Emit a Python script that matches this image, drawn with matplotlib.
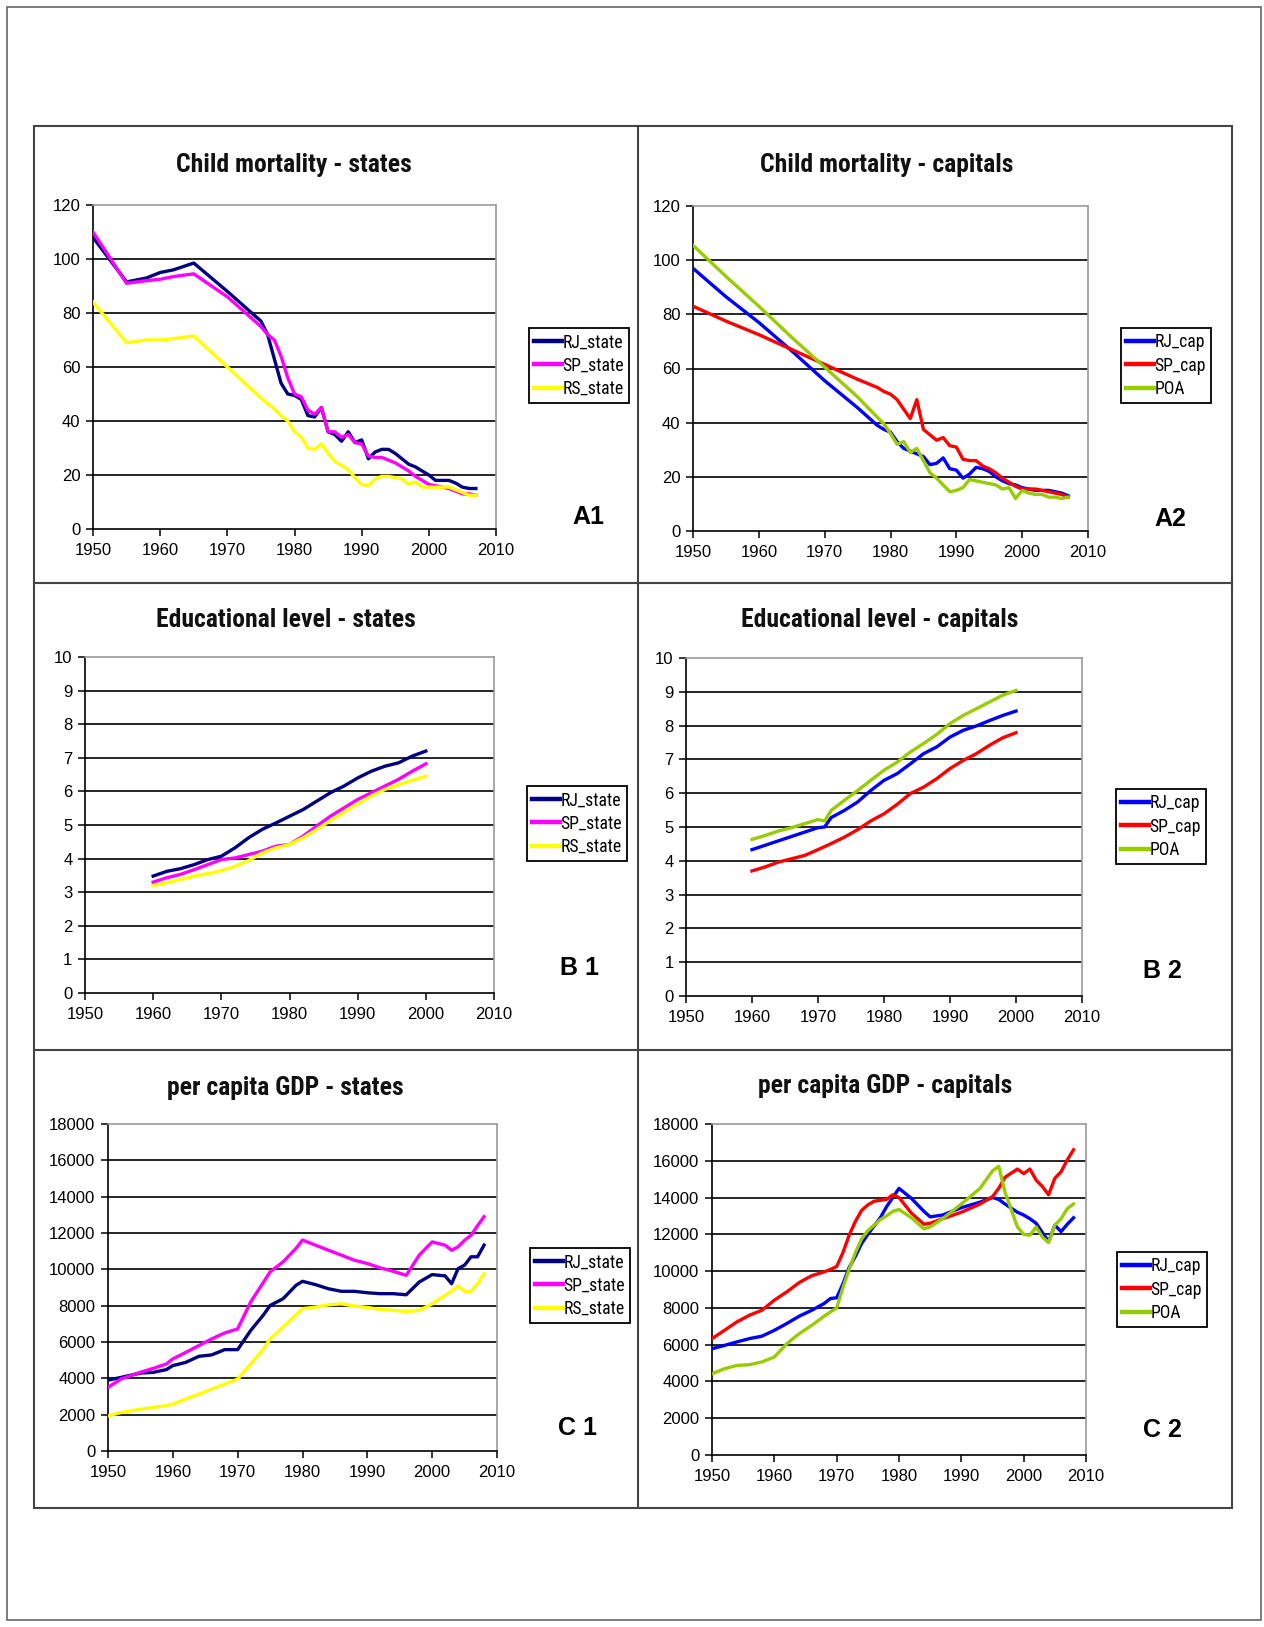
import numpy as np
import matplotlib
matplotlib.use('Agg')
import matplotlib.pyplot as plt
from matplotlib import font_manager
from matplotlib.lines import Line2D
from matplotlib.patches import Rectangle

# ---- child mortality, states ----
yrs_mort_st = [1950, 1955, 1958, 1960, 1962, 1965, 1970, 1975, 1976, 1977, 1978, 1979,
               1980, 1981, 1982, 1983, 1984, 1985, 1986, 1987, 1988, 1989, 1990, 1991,
               1992, 1993, 1994, 1995, 1996, 1997, 1998, 1999, 2000, 2001, 2002, 2003,
               2004, 2005, 2006, 2007]
rj_state_mort = [108, 91.5, 93, 95, 96, 98.5, 88, 77, 72, 63, 54, 50,
                 49.5, 48, 42, 41.5, 45, 36, 35, 32.5, 36, 32, 33, 26,
                 28.5, 29.5, 29.5, 28, 26, 24, 23, 21.5, 20, 18, 18, 18,
                 17, 15.5, 15, 15]
sp_state_mort = [110, 91, 92, 92.5, 93.5, 94.5, 86, 75, 72, 70, 64, 56,
                 50, 49, 44, 42.5, 45, 36, 36, 34, 35, 32, 31.5, 27,
                 26.5, 26.5, 25.5, 24.5, 23, 21.5, 19.5, 18, 16.5, 16, 15.5, 15,
                 14, 13, 13, 12.5]
rs_state_mort = [84, 69, 70, 70, 70.5, 71.5, 60, 48.5, 46.5, 44.5, 42, 40,
                 36, 34, 30, 29.5, 31.5, 28, 25, 23.5, 22, 19, 16.5, 16,
                 18.5, 19.5, 19.5, 19, 18.5, 16.5, 17.5, 15.5, 15.5, 15.5, 15.5, 15.5,
                 14.5, 13.5, 12.5, 12.5]

# ---- child mortality, capitals ----
yrs_mort_cap = [1950, 1955, 1960, 1965, 1970, 1975, 1978, 1979, 1980, 1981, 1982, 1983,
                1984, 1985, 1986, 1987, 1988, 1989, 1990, 1991, 1992, 1993, 1994, 1995,
                1996, 1997, 1998, 1999, 2000, 2001, 2002, 2003, 2004, 2005, 2006, 2007]
rj_cap_mort = [97, 86.5, 77, 66.5, 55.5, 45.5, 39, 37.5, 36.5, 33, 30.5, 29.5,
               28.5, 27.5, 24.5, 25, 27, 23, 22.5, 19.5, 21, 23.5, 23, 22,
               20, 18.5, 17.5, 17, 16, 15.5, 15, 15, 15, 14.5, 14, 13]
sp_cap_mort = [83, 77.5, 72.5, 67, 61.5, 56, 53, 51.5, 50.5, 48.5, 45, 41.5,
               48.5, 37.5, 35.5, 33.5, 34.5, 31.5, 31, 26.5, 26, 26, 24, 23,
               21.5, 19.5, 18, 16.5, 15.5, 15.5, 15.5, 15, 14.5, 14, 13.5, 12.5]
poa_mort = [105.5, 94, 83, 71.5, 60.5, 49.5, 42, 39.5, 36, 32, 33, 29,
            30.5, 26, 21.5, 19.5, 17, 14.5, 15, 16, 19, 18.5, 18, 17.5,
            17, 15.5, 16, 12, 15, 14, 13.5, 13.5, 12.5, 12.5, 12, 12.5]

# ---- educational level, states ----
yrs_edu_st = list(range(1960, 2001, 2))
rj_state_edu = [3.48, 3.62, 3.7, 3.82, 3.97, 4.07, 4.32, 4.62, 4.87, 5.06, 5.26,
                5.46, 5.71, 5.96, 6.16, 6.4, 6.6, 6.75, 6.85, 7.05, 7.2]
sp_state_edu = [3.3, 3.43, 3.53, 3.67, 3.82, 3.97, 4.02, 4.12, 4.22, 4.37, 4.42,
                4.67, 4.97, 5.26, 5.51, 5.76, 5.96, 6.16, 6.36, 6.6, 6.82]
rs_state_edu = [3.2, 3.28, 3.38, 3.48, 3.55, 3.64, 3.77, 3.94, 4.17, 4.32, 4.42,
                4.62, 4.87, 5.13, 5.38, 5.63, 5.86, 6.06, 6.2, 6.33, 6.45]

# ---- educational level, capitals ----
yrs_edu_cap = [1960, 1962, 1964, 1966, 1968, 1970, 1971, 1972, 1974, 1976, 1978,
               1980, 1982, 1984, 1986, 1988, 1990, 1992, 1994, 1996, 1998, 2000]
rj_cap_edu = [4.33, 4.46, 4.59, 4.72, 4.85, 4.98, 5.0, 5.28, 5.49, 5.74, 6.08,
              6.38, 6.58, 6.87, 7.17, 7.37, 7.66, 7.86, 7.99, 8.15, 8.3, 8.43]
sp_cap_edu = [3.7, 3.82, 3.96, 4.06, 4.16, 4.33, 4.42, 4.51, 4.7, 4.92, 5.18,
              5.39, 5.67, 5.99, 6.18, 6.43, 6.73, 6.97, 7.17, 7.42, 7.64, 7.79]
poa_edu = [4.63, 4.75, 4.88, 4.98, 5.1, 5.22, 5.18, 5.49, 5.79, 6.08, 6.38,
           6.68, 6.92, 7.22, 7.47, 7.74, 8.06, 8.3, 8.5, 8.7, 8.9, 9.04]

# ---- per capita GDP, states ----
yrs_gdp_st = [1950, 1952, 1955, 1957, 1959, 1960, 1962, 1964, 1966, 1968, 1970, 1972,
              1974, 1975, 1977, 1979, 1980, 1982, 1984, 1986, 1988, 1990, 1992, 1994,
              1996, 1998, 2000, 2002, 2003, 2004, 2005, 2006, 2007, 2008]
rj_state_gdp = [3900, 4050, 4290, 4330, 4480, 4700, 4880, 5210, 5290, 5580, 5580, 6630,
                7500, 8010, 8380, 9120, 9340, 9160, 8930, 8790, 8790, 8710, 8660, 8660,
                8600, 9300, 9710, 9640, 9210, 10040, 10230, 10690, 10690, 11330]
sp_state_gdp = [3500, 3960, 4330, 4550, 4790, 5070, 5430, 5800, 6170, 6500, 6720, 8200,
                9300, 9860, 10410, 11150, 11610, 11330, 11050, 10780, 10500, 10320, 10080, 9890,
                9670, 10780, 11510, 11330, 11050, 11240, 11600, 11880, 12400, 12900]
rs_state_gdp = [1930, 2120, 2300, 2400, 2500, 2580, 2860, 3130, 3410, 3680, 3960, 4790,
                5620, 6170, 6820, 7500, 7830, 7920, 8050, 8100, 7980, 7900, 7790, 7740,
                7680, 7740, 8100, 8570, 8800, 9080, 8790, 8790, 9210, 9760]

# ---- per capita GDP, capitals ----
yrs_gdp_cap = [1950, 1952, 1954, 1956, 1958, 1960, 1962, 1964, 1966, 1968, 1969, 1970,
               1971, 1972, 1973, 1974, 1975, 1976, 1977, 1978, 1979, 1980, 1982, 1984,
               1985, 1987, 1990, 1993, 1995, 1996, 1997, 1999, 2000, 2001, 2002, 2003,
               2004, 2005, 2006, 2007, 2008]
rj_cap_gdp = [5780, 5960, 6150, 6330, 6460, 6780, 7150, 7550, 7870, 8240, 8510, 8550,
              9300, 10200, 10800, 11500, 12000, 12450, 12900, 13500, 14000, 14500, 13950, 13250,
              12950, 13050, 13450, 13750, 14000, 13900, 13650, 13200, 13050, 12850, 12600, 12100,
              11600, 12500, 12150, 12550, 12900]
sp_cap_gdp = [6330, 6780, 7240, 7600, 7870, 8420, 8870, 9380, 9750, 9960, 10090, 10250,
              11000, 11950, 12700, 13300, 13600, 13800, 13850, 13900, 14150, 14000, 13150, 12550,
              12600, 12850, 13200, 13650, 14050, 14500, 15100, 15550, 15300, 15550, 14950, 14600,
              14150, 15050, 15400, 16050, 16600]
poa_gdp = [4420, 4690, 4870, 4910, 5060, 5330, 6050, 6600, 7050, 7550, 7780, 8000,
           9100, 10100, 11000, 11750, 12200, 12500, 12800, 13000, 13250, 13350, 12900, 12300,
           12400, 12850, 13650, 14500, 15450, 15700, 14300, 12400, 12000, 11950, 12400, 11850,
           11550, 12500, 12850, 13400, 13650]

# Excel-like colours
NAVY, MAGENTA, YELLOW = '#000080', '#FF00FF', '#FFFF00'
BLUE, RED, LIME = '#0000FF', '#FF0000', '#99CC00'

W, H = 1264, 1627

# pick a narrow face for titles / legends (the original looks like Arial Narrow)
names = {f.name for f in font_manager.fontManager.ttflist}
NARROW, STRETCH = 'DejaVu Sans', 'condensed'
for cand in ['Liberation Sans Narrow', 'Arial Narrow', 'Roboto Condensed', 'Fira Sans Condensed']:
    if cand in names:
        NARROW, STRETCH = cand, 'normal'
        break
plt.rcParams['font.family'] = ['Liberation Sans', 'DejaVu Sans']


def fx(x):
    return x / W


def fy(y):
    return 1 - y / H


def fit_size(fig, text, target_px, weight='normal', base=20):
    # size the text so its width matches the original
    t = fig.text(0, 0, text, fontsize=base, family=NARROW, fontstretch=STRETCH, fontweight=weight)
    w = t.get_window_extent(renderer=fig.canvas.get_renderer()).width
    t.remove()
    return base * target_px / w


def draw_panel(fig, box, title, title_xy, series, ylim, ystep, leg_xy, label, label_xy):
    l, t, r, b = box
    ax = fig.add_axes([fx(l), fy(b), (r - l) / W, (b - t) / H])
    for yrs, vals, name, color in series:
        ax.plot(yrs, vals, color=color, lw=2.4, label=name, zorder=3)

    ax.set_xlim(1950, 2010)
    ax.set_ylim(*ylim)
    ax.set_xticks(range(1950, 2011, 10))
    yt = np.arange(ylim[0], ylim[1] + ystep / 2, ystep)
    ax.set_yticks(yt)
    # black horizontal gridlines like in Excel
    for v in yt[1:-1]:
        ax.axhline(v, color='black', lw=1.2, zorder=1)

    for side in ['left', 'bottom']:
        ax.spines[side].set_color('black')
        ax.spines[side].set_linewidth(1.2)
    for side in ['top', 'right']:
        ax.spines[side].set_color('#9a9a9a')
        ax.spines[side].set_linewidth(1.2)
    ax.tick_params(direction='out', length=5, width=1.1, labelsize=12, colors='black')
    ax.tick_params(axis='x', pad=5)
    ax.tick_params(axis='y', pad=4)

    fig.text(fx(title_xy[0]), fy(title_xy[1]), title, ha='center', va='center',
             fontsize=TITLE_SIZE, fontweight='bold', family=NARROW, fontstretch=STRETCH,
             color='#111111')

    leg = ax.legend(loc='upper left', bbox_to_anchor=(fx(leg_xy[0]), fy(leg_xy[1])),
                    bbox_transform=fig.transFigure, frameon=True, fancybox=False,
                    edgecolor='black', framealpha=1, borderpad=0.3, borderaxespad=0,
                    handlelength=1.55, handletextpad=0.05, labelspacing=0.3,
                    prop={'family': NARROW, 'stretch': STRETCH, 'size': LEG_SIZE})
    leg.get_frame().set_linewidth(1.3)
    for h in leg.get_lines():
        h.set_linewidth(3.2)

    fig.text(fx(label_xy[0]), fy(label_xy[1]), label, ha='center', va='center',
             fontsize=18, fontweight='heavy', family=['Liberation Sans', 'DejaVu Sans'])
    return ax


fig = plt.figure(figsize=(W / 100, H / 100), dpi=100)
TITLE_SIZE = fit_size(fig, 'Child mortality - states', 235, weight='bold')
LEG_SIZE = fit_size(fig, 'RJ_state', 60)

# outer page frame and the grid of six cells
fig.add_artist(Rectangle((fx(7), fy(1620)), (1261 - 7) / W, (1620 - 7) / H,
                         transform=fig.transFigure, fill=False, ec='#666666', lw=1.2))
fig.add_artist(Rectangle((fx(34), fy(1508)), (1232 - 34) / W, (1508 - 126) / H,
                         transform=fig.transFigure, fill=False, ec='#444444', lw=1.5))
fig.add_artist(Line2D([fx(638), fx(638)], [fy(126), fy(1508)],
                      transform=fig.transFigure, color='#444444', lw=1.5))
for yy in [583, 1050]:
    fig.add_artist(Line2D([fx(34), fx(1232)], [fy(yy), fy(yy)],
                          transform=fig.transFigure, color='#444444', lw=1.5))

draw_panel(fig, (93, 205, 496, 529), 'Child mortality - states', (294, 165),
           [(yrs_mort_st, rj_state_mort, 'RJ_state', NAVY),
            (yrs_mort_st, sp_state_mort, 'SP_state', MAGENTA),
            (yrs_mort_st, rs_state_mort, 'RS_state', YELLOW)],
           (0, 120), 20, (529, 328), 'A1', (588, 517))

draw_panel(fig, (693, 206, 1088, 531), 'Child mortality - capitals', (887, 165),
           [(yrs_mort_cap, rj_cap_mort, 'RJ_cap', BLUE),
            (yrs_mort_cap, sp_cap_mort, 'SP_cap', RED),
            (yrs_mort_cap, poa_mort, 'POA', LIME)],
           (0, 120), 20, (1121, 328), 'A2', (1170, 519))

draw_panel(fig, (85, 657, 494, 993), 'Educational level - states', (286, 620),
           [(yrs_edu_st, rj_state_edu, 'RJ_state', NAVY),
            (yrs_edu_st, sp_state_edu, 'SP_state', MAGENTA),
            (yrs_edu_st, rs_state_edu, 'RS_state', YELLOW)],
           (0, 10), 1, (527, 786), 'B 1', (580, 968))

draw_panel(fig, (686, 658, 1082, 996), 'Educational level - capitals', (880, 620),
           [(yrs_edu_cap, rj_cap_edu, 'RJ_cap', BLUE),
            (yrs_edu_cap, sp_cap_edu, 'SP_cap', RED),
            (yrs_edu_cap, poa_edu, 'POA', LIME)],
           (0, 10), 1, (1116, 789), 'B 2', (1162, 971))

draw_panel(fig, (108, 1124, 497, 1451), 'per capita GDP - states', (285, 1088),
           [(yrs_gdp_st, rj_state_gdp, 'RJ_state', NAVY),
            (yrs_gdp_st, sp_state_gdp, 'SP_state', MAGENTA),
            (yrs_gdp_st, rs_state_gdp, 'RS_state', YELLOW)],
           (0, 18000), 2000, (530, 1248), 'C 1', (578, 1428))

draw_panel(fig, (712, 1124, 1086, 1455), 'per capita GDP - capitals', (885, 1086),
           [(yrs_gdp_cap, rj_cap_gdp, 'RJ_cap', BLUE),
            (yrs_gdp_cap, sp_cap_gdp, 'SP_cap', RED),
            (yrs_gdp_cap, poa_gdp, 'POA', LIME)],
           (0, 18000), 2000, (1117, 1252), 'C 2', (1162, 1430))

fig.savefig('out.png', dpi=100, facecolor='white')
